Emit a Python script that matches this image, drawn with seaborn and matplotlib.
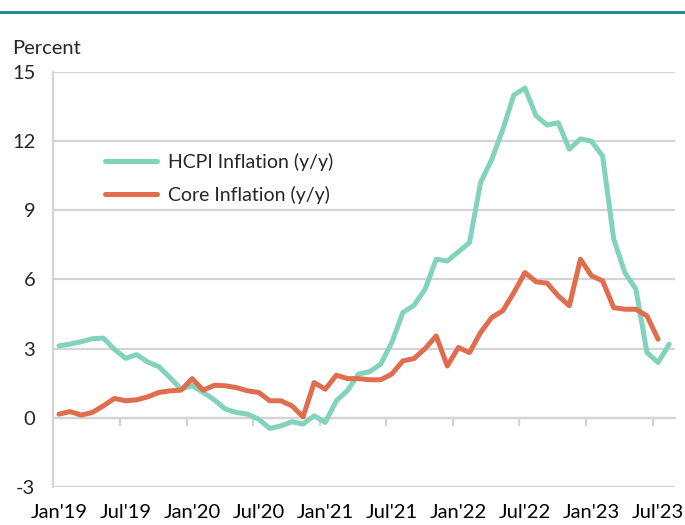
import numpy as np
import pandas as pd
import matplotlib
matplotlib.use("Agg")
import matplotlib.pyplot as plt
from matplotlib.lines import Line2D
import seaborn as sns

# ---- data (monthly Jan 2019 - Aug 2023) ----
tick_labels = ["Jan'19", "Jul'19", "Jan'20", "Jul'20", "Jan'21",
               "Jul'21", "Jan'22", "Jul'22", "Jan'23", "Jul'23"]

hcpi = [3.12, 3.2, 3.3, 3.43, 3.46, 2.97, 2.58, 2.74, 2.42, 2.22,
        1.75, 1.24, 1.4, 1.1, 0.78, 0.38, 0.23, 0.16, -0.06, -0.46,
        -0.35, -0.17, -0.27, 0.09, -0.2, 0.74, 1.18, 1.9, 2.0, 2.33,
        3.27, 4.57, 4.88, 5.58, 6.88, 6.8, 7.2, 7.6, 10.2, 11.2,
        12.5, 14.0, 14.3, 13.1, 12.7, 12.8, 11.65, 12.1, 12.0, 11.35,
        7.75, 6.3, 5.58, 2.83, 2.4, 3.19]

core = [0.16, 0.27, 0.12, 0.23, 0.52, 0.84, 0.74, 0.78, 0.91, 1.1,
        1.17, 1.2, 1.7, 1.2, 1.41, 1.39, 1.31, 1.17, 1.1, 0.74,
        0.74, 0.52, 0.04, 1.53, 1.24, 1.85, 1.7, 1.7, 1.65, 1.65,
        1.9, 2.47, 2.57, 3.0, 3.55, 2.25, 3.05, 2.83, 3.7, 4.35,
        4.64, 5.43, 6.3, 5.9, 5.84, 5.29, 4.86, 6.88, 6.16, 5.94,
        4.78, 4.71, 4.71, 4.42, 3.41]

series_names = ["HCPI Inflation (y/y)", "Core Inflation (y/y)"]
colors = {"HCPI Inflation (y/y)": "#82d3bb", "Core Inflation (y/y)": "#e06e4e"}

df = pd.concat([
    pd.DataFrame({"month": np.arange(len(hcpi)), "value": hcpi, "series": series_names[0]}),
    pd.DataFrame({"month": np.arange(len(core)), "value": core, "series": series_names[1]}),
])

sns.set_style("white")
plt.rcParams["font.family"] = ["Lato", "DejaVu Sans"]
plt.rcParams["axes.unicode_minus"] = False

fig = plt.figure(figsize=(6.85, 5.25), dpi=100)
ax = fig.add_axes([0.078, 0.0724, 0.907, 0.7905])

sns.lineplot(data=df, x="month", y="value", hue="series", palette=colors,
             linewidth=3.6, ax=ax, solid_capstyle="round", solid_joinstyle="round")

grid_c = "#d4d4d4"
ax.set_xlim(-0.5, 55.5)
ax.set_ylim(-3, 15)
ax.set_yticks(np.arange(-3, 16, 3))
ax.yaxis.grid(True, color=grid_c, lw=1.6)
ax.set_axisbelow(True)

for s in ["top", "right", "bottom"]:
    ax.spines[s].set_visible(False)
ax.spines["left"].set_color(grid_c)
ax.spines["left"].set_linewidth(1.6)

ax.set_xticks(np.arange(0, 56, 6))
ax.set_xticklabels(tick_labels)
ax.tick_params(axis="x", length=0, pad=12, labelsize=14.5, colors="black")
ax.tick_params(axis="y", length=5, width=1.6, color=grid_c, pad=8, labelsize=14.5)
ax.set_xlabel("")
ax.set_ylabel("")

# x axis line crossing at zero, tick marks between categories
sec = ax.secondary_xaxis(3 / 18)
sec.set_xticks(np.arange(5.5, 56, 6))
sec.set_xticklabels([])
sec.tick_params(axis="x", length=6, width=1.6, color=grid_c, direction="out")
sec.spines["bottom"].set_color(grid_c)
sec.spines["bottom"].set_linewidth(1.6)

leg = ax.legend(loc="upper left", bbox_to_anchor=(0.083, 0.805), frameon=False,
                fontsize=14, handlelength=2.7, handletextpad=0.55,
                labelspacing=0.75, borderpad=0, borderaxespad=0)
for h in leg.get_lines():
    h.set_linewidth(3.6)

fig.text(12 / 685, 1 - 48 / 525, "Percent", fontsize=14.5, va="center", ha="left")
fig.add_artist(Line2D([0, 1], [1 - 12 / 525, 1 - 12 / 525], transform=fig.transFigure,
                      color="#2b8a98", lw=2.2))

fig.savefig("out.png", dpi=100)
